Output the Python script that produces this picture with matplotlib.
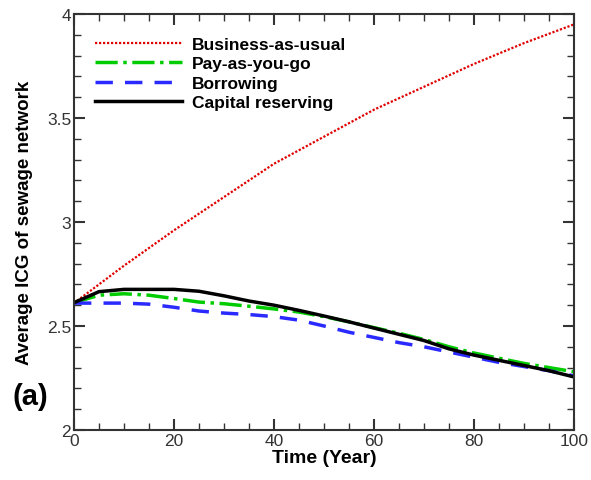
import numpy as np
import matplotlib
matplotlib.use("Agg")
import matplotlib.pyplot as plt
from matplotlib.ticker import MultipleLocator

plt.rcParams['font.family'] = ['Liberation Sans', 'DejaVu Sans']

# Average ICG over the 100-year horizon for each financing scenario
years_bau = [0, 10, 20, 30, 40, 50, 60, 70, 80, 90, 100]
icg_bau = [2.61, 2.79, 2.96, 3.12, 3.28, 3.41, 3.54, 3.65, 3.76, 3.86, 3.95]

years = [0, 5, 10, 15, 20, 25, 30, 35, 40, 45, 50,
         55, 60, 65, 70, 75, 80, 85, 90, 95, 100]
icg_payg = [2.612, 2.648, 2.655, 2.648, 2.632, 2.615, 2.607, 2.595, 2.582, 2.567, 2.545,
            2.52, 2.492, 2.465, 2.435, 2.40, 2.37, 2.345, 2.32, 2.30, 2.28]
icg_borrow = [2.61, 2.61, 2.61, 2.605, 2.59, 2.572, 2.562, 2.555, 2.545, 2.528, 2.50,
              2.47, 2.445, 2.42, 2.40, 2.375, 2.35, 2.325, 2.305, 2.285, 2.26]
icg_reserve = [2.612, 2.665, 2.676, 2.676, 2.676, 2.667, 2.645, 2.62, 2.60, 2.575, 2.548,
               2.52, 2.49, 2.46, 2.43, 2.39, 2.36, 2.335, 2.31, 2.285, 2.255]

fig = plt.figure(figsize=(5.91, 4.81), dpi=100)
ax = fig.add_axes([0.1252, 0.104, 0.846, 0.8648])

ax.plot(years_bau, icg_bau, color='#e00000', linewidth=1.6, dashes=(1, 0.8),
        label='Business-as-usual')
ax.plot(years, icg_payg, color='#00cc00', linestyle='-.', linewidth=2.5,
        label='Pay-as-you-go')
ax.plot(years, icg_borrow, color='#2a2aff', linewidth=2.5, dashes=(5, 3.5),
        label='Borrowing')
ax.plot(years, icg_reserve, color='black', linestyle='-', linewidth=2.5,
        label='Capital reserving')

ax.set_xlim(0, 100)
ax.set_ylim(2, 4)
ax.xaxis.set_major_locator(MultipleLocator(20))
ax.xaxis.set_minor_locator(MultipleLocator(5))
ax.yaxis.set_major_locator(MultipleLocator(0.5))
ax.yaxis.set_minor_locator(MultipleLocator(0.1))
ax.set_yticks([2, 2.5, 3, 3.5, 4])
ax.set_yticklabels(['2', '2.5', '3', '3.5', '4'])

ax.tick_params(which='both', direction='in', top=True, right=True,
               color='#333333', labelsize=12.5, labelcolor='#333333')
ax.tick_params(which='major', length=8, width=1.5, pad=2)
ax.tick_params(which='minor', length=5, width=1.0)
for sp in ax.spines.values():
    sp.set_linewidth(1.5)
    sp.set_color('#333333')

ax.set_xlabel('Time (Year)', fontsize=14, fontweight='bold', labelpad=1)
ax.set_ylabel('Average ICG of sewage network', fontsize=13.5, fontweight='bold',
              labelpad=10)

leg = ax.legend(loc='upper left', bbox_to_anchor=(0.042, 0.945), frameon=False,
                handlelength=5.0, handletextpad=0.6, labelspacing=0.24,
                borderpad=0, borderaxespad=0,
                prop={'size': 12.5, 'weight': 'bold'})

fig.text(0.052, 0.174, '(a)', fontsize=21, fontweight='bold',
         ha='center', va='center')

fig.savefig('out.png', dpi=100)
